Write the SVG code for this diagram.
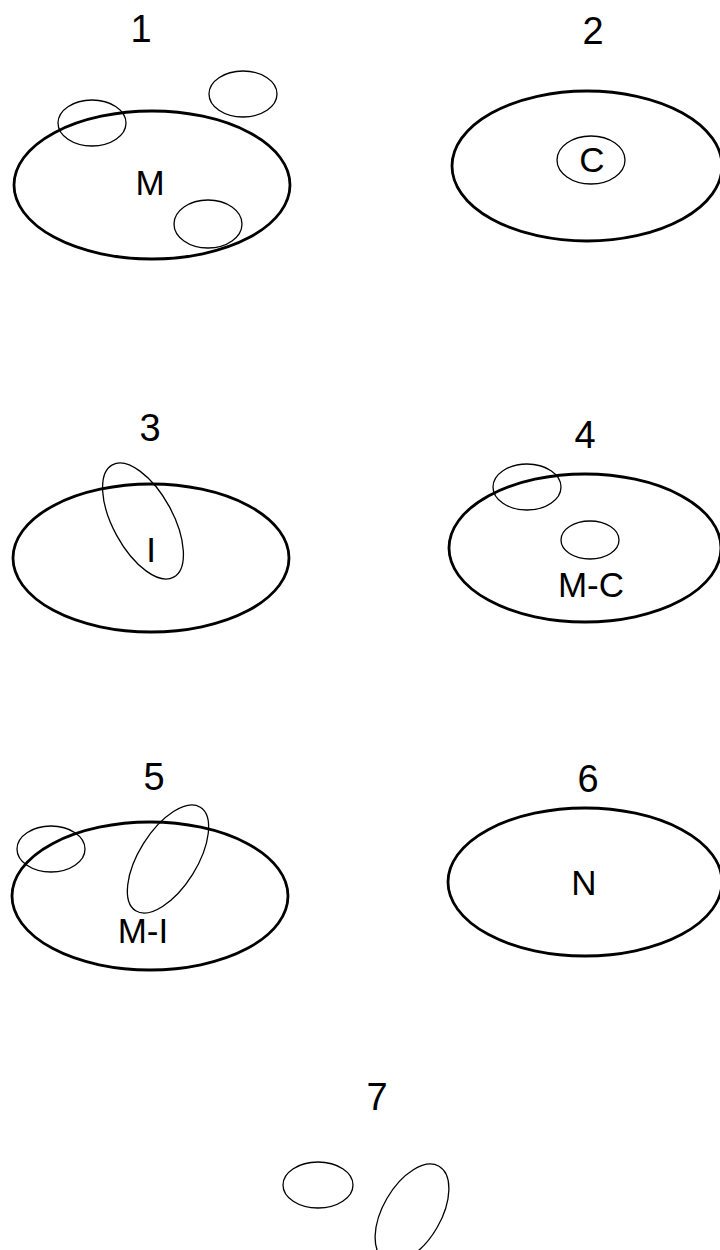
<svg xmlns="http://www.w3.org/2000/svg" width="720" height="1250" viewBox="0 0 720 1250">
<style>
.big{fill:none;stroke:#000;stroke-width:2.8}
.sm{fill:none;stroke:#000;stroke-width:1.3}
.num{font-family:"Liberation Sans",Arial,sans-serif;font-size:38px;fill:#000;text-anchor:middle}
.lbl{font-family:"Liberation Sans",Arial,sans-serif;font-size:35px;fill:#000;text-anchor:middle}
</style>
<rect width="720" height="1250" fill="#fff"/>
<g id="panel1">
<text class="num" x="141" y="42">1</text>
<ellipse class="big" cx="152" cy="185" rx="138" ry="74"/>
<ellipse class="sm" cx="92" cy="123" rx="34" ry="23"/>
<ellipse class="sm" cx="243" cy="94" rx="34" ry="23"/>
<ellipse class="sm" cx="208" cy="224" rx="34" ry="24"/>
<text class="lbl" x="150" y="195">M</text>
</g>
<g id="panel2">
<text class="num" x="593" y="44">2</text>
<ellipse class="big" cx="587" cy="166" rx="135" ry="75"/>
<ellipse class="sm" cx="591" cy="160" rx="34" ry="24"/>
<text class="lbl" x="592" y="172">C</text>
</g>
<g id="panel3">
<text class="num" x="150" y="441">3</text>
<ellipse class="big" cx="151" cy="558" rx="138" ry="74"/>
<ellipse class="sm" cx="0" cy="0" rx="30" ry="64" transform="translate(143 521) rotate(-28.6)"/>
<text class="lbl" x="151" y="562">I</text>
</g>
<g id="panel4">
<text class="num" x="585" y="448">4</text>
<ellipse class="big" cx="585" cy="548" rx="136" ry="74"/>
<ellipse class="sm" cx="527" cy="487" rx="34" ry="23"/>
<ellipse class="sm" cx="590" cy="540" rx="29" ry="19"/>
<text class="lbl" x="591" y="597">M-C</text>
</g>
<g id="panel5">
<text class="num" x="154" y="790">5</text>
<ellipse class="big" cx="150" cy="896" rx="138" ry="74"/>
<ellipse class="sm" cx="51" cy="849" rx="34" ry="23"/>
<ellipse class="sm" cx="0" cy="0" rx="29" ry="61" transform="translate(168 859) rotate(32)"/>
<text class="lbl" x="143" y="943">M-I</text>
</g>
<g id="panel6">
<text class="num" x="588" y="792">6</text>
<ellipse class="big" cx="585" cy="882" rx="137" ry="74"/>
<text class="lbl" x="584" y="895">N</text>
</g>
<g id="panel7">
<text class="num" x="377" y="1110">7</text>
<ellipse class="sm" cx="318" cy="1185" rx="35" ry="23"/>
<ellipse class="sm" cx="0" cy="0" rx="29" ry="54" transform="translate(412 1213) rotate(30)"/>
</g>
<g id="connectors"/>
</svg>
